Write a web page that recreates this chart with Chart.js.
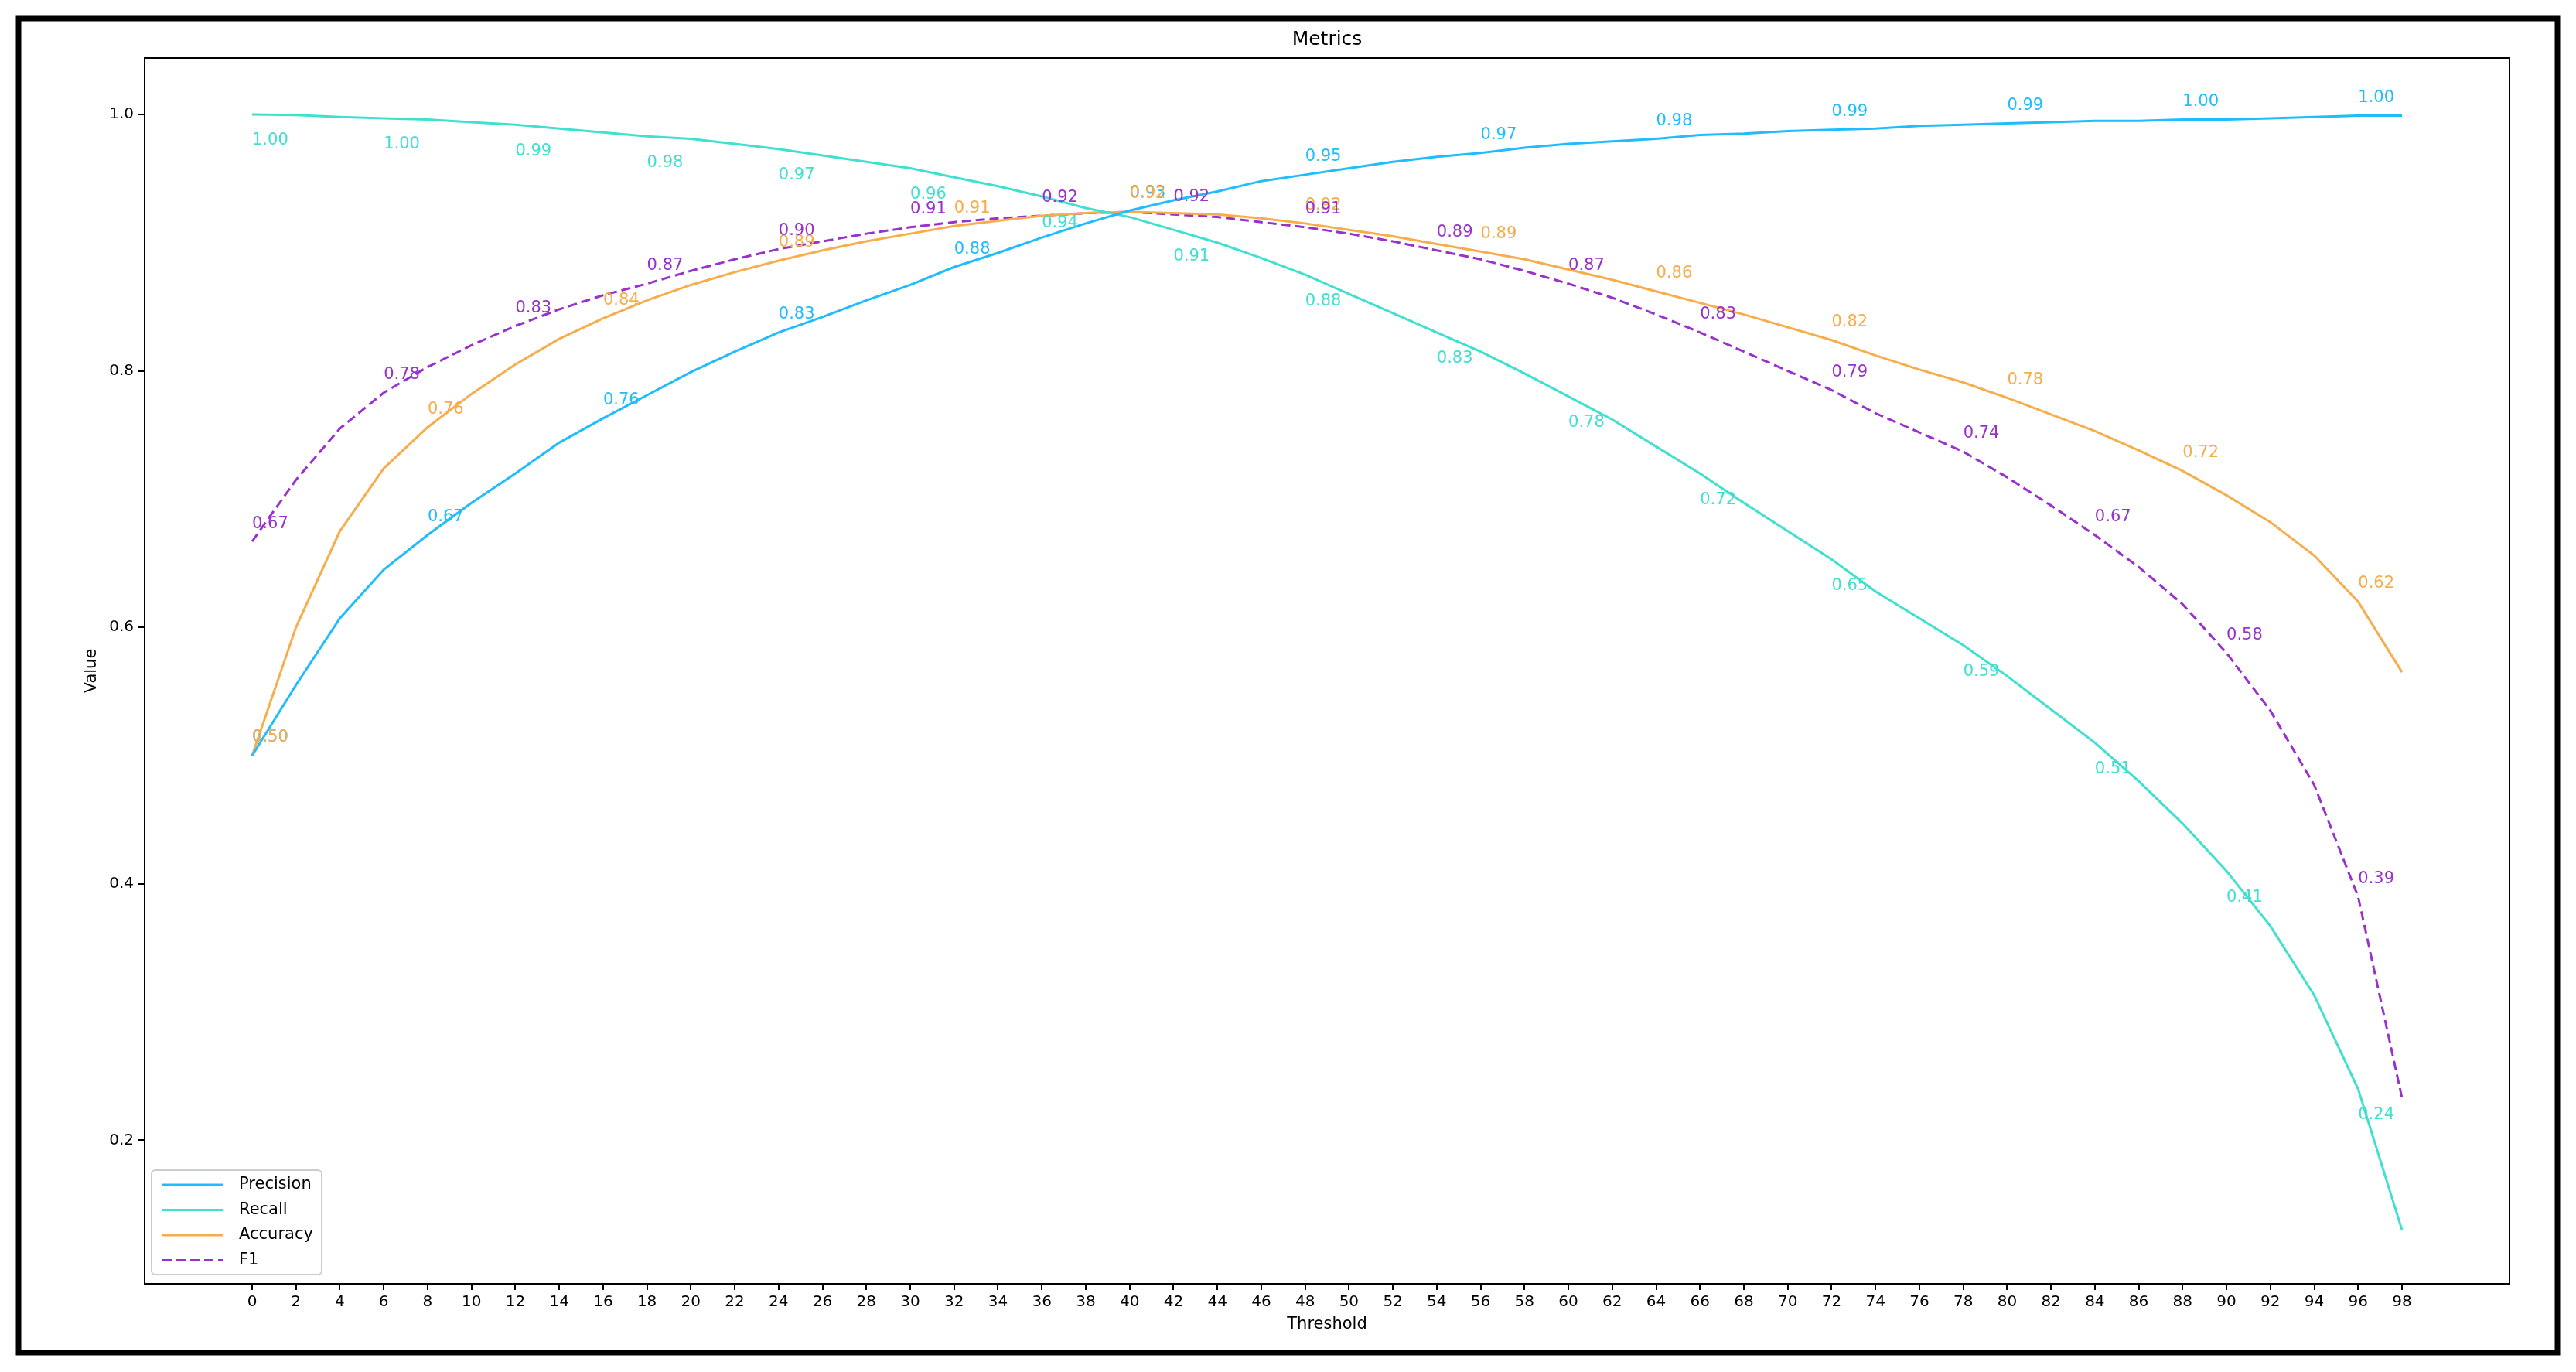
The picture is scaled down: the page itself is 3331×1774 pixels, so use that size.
<!DOCTYPE html>
<html>
<head>
<meta charset="utf-8">
<script src="https://cdn.jsdelivr.net/npm/chart.js@4"></script>
<style>
  html, body { margin: 0; padding: 0; background: #fff; }
  canvas { display: block; }
</style>
</head>
<body>
<canvas id="metricsChart" width="3331" height="1774"></canvas>
<script>
// --- data ---
const thresholds = [0,2,4,6,8,10,12,14,16,18,20,22,24,26,28,30,32,34,36,38,40,42,44,46,48,50,52,54,56,58,60,62,64,66,68,70,72,74,76,78,80,82,84,86,88,90,92,94,96,98];
const precision = [0.500,0.555,0.607,0.645,0.672,0.697,0.720,0.744,0.763,0.781,0.799,0.815,0.830,0.842,0.855,0.867,0.881,0.892,0.904,0.915,0.925,0.933,0.940,0.948,0.953,0.958,0.963,0.967,0.970,0.974,0.977,0.979,0.981,0.984,0.985,0.987,0.988,0.989,0.991,0.992,0.993,0.994,0.995,0.995,0.996,0.996,0.997,0.998,0.999,0.999];
const recall = [1.000,0.9995,0.998,0.997,0.996,0.994,0.992,0.989,0.986,0.983,0.981,0.977,0.973,0.968,0.963,0.958,0.951,0.944,0.936,0.927,0.920,0.910,0.900,0.888,0.875,0.860,0.845,0.830,0.815,0.798,0.780,0.762,0.741,0.720,0.697,0.675,0.653,0.628,0.607,0.586,0.562,0.536,0.510,0.480,0.447,0.410,0.367,0.313,0.240,0.130];
const accuracy = [0.500,0.600,0.675,0.724,0.756,0.782,0.805,0.825,0.841,0.855,0.867,0.877,0.886,0.894,0.901,0.907,0.913,0.917,0.921,0.923,0.924,0.923,0.922,0.919,0.915,0.910,0.905,0.899,0.893,0.887,0.879,0.871,0.862,0.853,0.844,0.834,0.824,0.812,0.801,0.791,0.779,0.766,0.753,0.738,0.722,0.703,0.682,0.656,0.620,0.565];
const f1 = [0.667,0.715,0.755,0.783,0.803,0.820,0.835,0.848,0.859,0.868,0.878,0.887,0.895,0.901,0.907,0.912,0.916,0.919,0.921,0.923,0.924,0.922,0.920,0.916,0.912,0.907,0.901,0.894,0.887,0.878,0.868,0.857,0.844,0.830,0.815,0.800,0.785,0.767,0.752,0.737,0.717,0.695,0.672,0.647,0.618,0.580,0.535,0.477,0.390,0.233];
const yTicks = [0.2, 0.4, 0.6, 0.8, 1.0];

const FONT = '"DejaVu Sans", sans-serif';

const series = [
    { label: 'Precision', data: precision, color: '#1fbcff', every: 4, dy: -23, dash: [] },
    { label: 'Recall',    data: recall,    color: '#40e0d0', every: 3, dy: 34,  dash: [] },
    { label: 'Accuracy',  data: accuracy,  color: '#f8ad4c', every: 4, dy: -23, dash: [] },
    { label: 'F1',        data: f1,        color: '#9932cc', every: 3, dy: -23, dash: [12, 6] }
];

// frame, title, axis titles, value labels, legend
const decorPlugin = {
    id: 'decor',
    beforeDraw(chart) {
        const c = chart.ctx;
        c.save();
        c.fillStyle = '#fff';
        c.fillRect(0, 0, chart.width, chart.height);
        c.restore();
    },
    afterDraw(chart) {
        const c = chart.ctx;
        const a = chart.chartArea;
        const xs = chart.scales.x, ys = chart.scales.y;
        c.save();
        // plot spines
        c.strokeStyle = '#000';
        c.lineWidth = 2;
        c.strokeRect(a.left, a.top, a.right - a.left, a.bottom - a.top);
        // outer frame
        c.lineWidth = 7;
        c.strokeRect(24, 24, 3283, 1725);

        c.fillStyle = '#000';
        c.textAlign = 'center';
        c.textBaseline = 'middle';
        c.font = '25px ' + FONT;
        c.fillText('Metrics', (a.left + a.right) / 2, 51);
        c.font = '21px ' + FONT;
        c.fillText('Threshold', (a.left + a.right) / 2, 1713);
        c.save();
        c.translate(119, (a.top + a.bottom) / 2);
        c.rotate(-Math.PI / 2);
        c.fillText('Value', 0, 0);
        c.restore();

        // value annotations
        c.font = '21px ' + FONT;
        c.textAlign = 'left';
        series.forEach(s => {
            c.fillStyle = s.color;
            s.data.forEach((v, i) => {
                if (i % s.every !== 0) return;
                c.fillText(v.toFixed(2), xs.getPixelForValue(thresholds[i]), ys.getPixelForValue(v) + s.dy);
            });
        });

        // legend box
        const lx = 196, ly = 1513, lw = 220, lh = 135;
        c.fillStyle = 'rgba(255,255,255,0.85)';
        c.strokeStyle = '#ccc';
        c.lineWidth = 2;
        c.beginPath();
        c.roundRect(lx, ly, lw, lh, 5);
        c.fill();
        c.stroke();
        series.forEach((s, i) => {
            const y = 1532 + i * 32.5;
            c.strokeStyle = s.color;
            c.lineWidth = 3;
            c.setLineDash(s.dash);
            c.beginPath();
            c.moveTo(210, y);
            c.lineTo(288, y);
            c.stroke();
            c.setLineDash([]);
            c.fillStyle = '#000';
            c.fillText(s.label, 309, y);
        });
        c.restore();
    }
};

new Chart(document.getElementById('metricsChart'), {
    type: 'line',
    data: {
        datasets: series.map(s => ({
            label: s.label,
            data: s.data.map((v, i) => ({ x: thresholds[i], y: v })),
            borderColor: s.color,
            borderWidth: 3,
            borderDash: s.dash,
            pointRadius: 0,
            tension: 0,
            fill: false
        }))
    },
    options: {
        responsive: false,
        animation: false,
        layout: { padding: { top: 75, right: 86, left: 0, bottom: 0 } },
        plugins: { legend: { display: false }, tooltip: { enabled: false } },
        scales: {
            x: {
                type: 'linear',
                min: -4.9,
                max: 102.9,
                afterBuildTicks: ax => { ax.ticks = thresholds.map(v => ({ value: v })); },
                afterFit: ax => { ax.height = 114; },
                ticks: { autoSkip: false, maxRotation: 0, color: '#000', font: { family: FONT, size: 20 }, padding: 4, callback: v => String(v) },
                grid: { drawOnChartArea: false, drawTicks: true, tickLength: 8, color: '#000', lineWidth: 2 },
                border: { display: true, color: '#000', width: 2 }
            },
            y: {
                min: 0.088,
                max: 1.044,
                afterBuildTicks: ax => { ax.ticks = yTicks.map(v => ({ value: v })); },
                afterFit: ax => { ax.width = 187; },
                ticks: { color: '#000', font: { family: FONT, size: 20 }, padding: 6, callback: v => Number(v).toFixed(1) },
                grid: { drawOnChartArea: false, drawTicks: true, tickLength: 8, color: '#000', lineWidth: 2 },
                border: { display: true, color: '#000', width: 2 }
            }
        }
    },
    plugins: [decorPlugin]
});
</script>
</body>
</html>
